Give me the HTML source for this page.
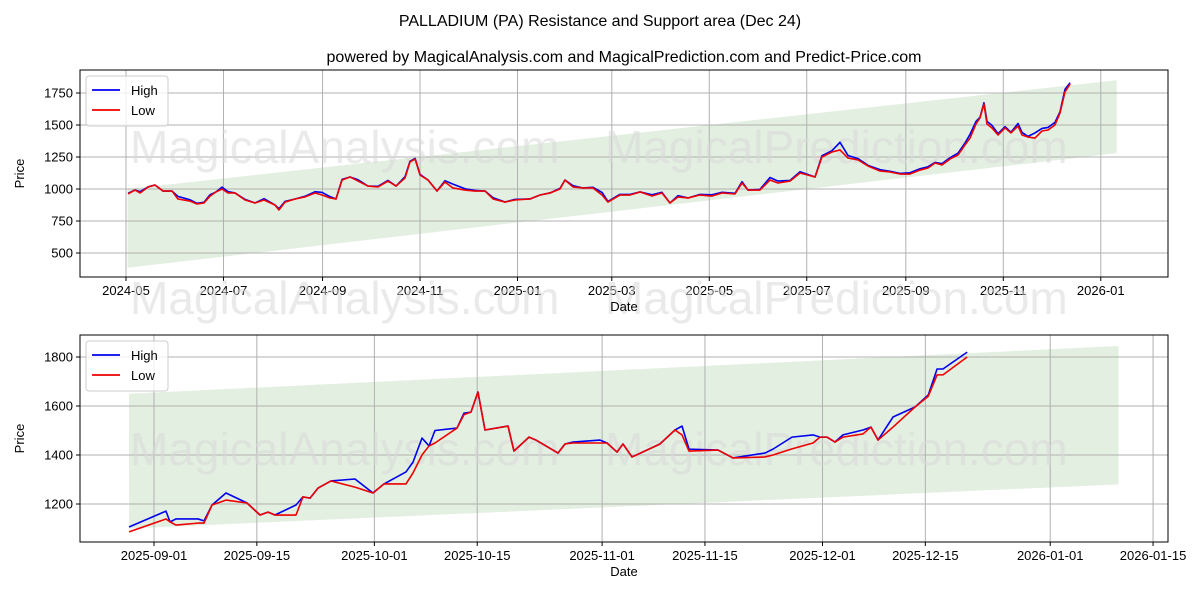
<!DOCTYPE html>
<html><head><meta charset="utf-8">
<style>
body{margin:0;background:#fff;}
svg{font-family:"Liberation Sans","DejaVu Sans",sans-serif;}
</style></head>
<body>
<svg id="c" width="1200" height="600" viewBox="0 0 1200 600" xmlns="http://www.w3.org/2000/svg">
<text x="600" y="26" text-anchor="middle" font-size="16">PALLADIUM (PA) Resistance and Support area (Dec 24)</text>
<text x="624" y="62" text-anchor="middle" font-size="16">powered by MagicalAnalysis.com and MagicalPrediction.com and Predict-Price.com</text>
</svg>
<script>
// Top chart: days since 2024-05-01
const topDays=[1.3,5.6,8.8,13.8,18.1,23.2,28.8,32.5,40,44.4,48.8,52.6,56.3,60.1,63.8,68.2,74.5,80.7,86.4,93.2,95.7,99.5,105.8,112,118.3,122.7,127.7,131.4,135.2,140.2,145.2,151.4,157.7,163.9,169,174.6,177.7,180.9,184,189,194.6,199.6,204.6,212.1,218.4,224.7,229.7,237.2,243.4,252.8,259.1,265.3,271.6,274.7,279.7,286,292.2,297.9,301.6,309.1,315.4,321.7,329.2,335.4,340.4,345.4,351.7,359.2,366.7,373,381.1,385.5,389.2,396.7,403,408,415.5,421.8,431.2,435.5,441.8,446.8,451.8,458.1,464.3,471.8,478.1,484.4,490.6,496.9,501.9,506.3,510.6,515.6,520.7,525,528.2,531.9,534.4,536.9,538.8,541.9,545.7,550.1,553.8,558.2,560.7,564.5,568.8,573.2,577,581.3,584.5,587.6,590.8];
const topLow=[961,992,969,1016,1031,984,984,922,906,883,891,945,977,1000,969,969,914,891,914,875,836,898,922,938,969,953,930,922,1070,1094,1062,1023,1016,1062,1023,1086,1211,1234,1109,1070,984,1055,1008,992,984,984,922,898,914,922,953,969,1000,1070,1016,1008,1008,953,898,953,953,977,945,969,891,938,930,953,945,969,961,1047,992,992,1070,1047,1062,1125,1094,1250,1289,1305,1242,1227,1180,1141,1133,1117,1117,1148,1164,1203,1188,1234,1266,1344,1398,1508,1555,1664,1508,1477,1422,1477,1438,1492,1422,1406,1398,1453,1461,1500,1594,1758,1820];
const topHighAdd=[5,0,10,0,0,0,0,20,10,5,5,10,0,15,10,0,5,0,10,0,10,5,0,5,10,20,10,0,5,0,10,0,5,5,0,10,5,5,5,0,0,10,30,10,5,0,10,0,5,0,0,0,5,0,10,0,5,20,5,5,5,0,10,5,0,10,0,5,10,5,5,10,0,5,20,15,5,10,0,10,10,60,20,10,5,10,5,5,10,10,10,5,10,10,15,15,30,20,5,10,20,20,10,10,5,20,20,5,40,20,20,20,10,20,10];
// Bottom chart: days since 2025-09-01
const botDays=[-3.4,1.63,2.18,2.99,5.99,6.81,7.9,9.8,12.66,14.43,15.52,16.47,19.33,20.28,21.24,22.33,24.1,27.36,29.81,31.31,34.3,35.26,36.48,37.44,38.25,41.25,42.2,43.15,44.1,45.06,48.19,49,51.05,52,55,55.95,57.04,60.71,61.67,63.03,63.84,65.07,68.88,70.92,71.88,72.83,76.78,78.82,83.17,84.26,86.85,89.71,90.66,91.61,92.7,93.79,96.51,97.6,98.56,100.6,103.6,105.4,106.6,107.4,110.7];
const botHigh=[1106,1171,1127,1139,1139,1131,1196,1245,1204,1155,1167,1155,1196,1229,1224,1265,1294,1302,1245,1282,1331,1371,1469,1437,1500,1510,1571,1575,1657,1502,1518,1416,1473,1461,1408,1445,1453,1461,1449,1412,1445,1392,1445,1502,1518,1424,1420,1388,1408,1424,1473,1482,1473,1473,1453,1482,1502,1514,1461,1555,1596,1645,1751,1751,1820];
const botLow=[1086,1139,1127,1114,1122,1122,1196,1216,1204,1155,1167,1155,1155,1229,1224,1265,1294,1269,1245,1282,1282,1327,1400,1437,1449,1510,1565,1575,1657,1502,1518,1416,1473,1461,1408,1445,1449,1449,1449,1412,1445,1392,1445,1502,1482,1416,1420,1388,1392,1400,1425,1449,1473,1473,1453,1473,1486,1514,1461,1514,1596,1640,1727,1727,1800];
const topYTicks=[500,750,1000,1250,1500,1750];
const topXTicks=["2024-05","2024-07","2024-09","2024-11","2025-01","2025-03","2025-05","2025-07","2025-09","2025-11","2026-01"];
const botYTicks=[1200,1400,1600,1800];
const botXTicks=["2025-09-01","2025-09-15","2025-10-01","2025-10-15","2025-11-01","2025-11-15","2025-12-01","2025-12-15","2026-01-01","2026-01-15"];

const svg=document.getElementById('c');
const NS="http://www.w3.org/2000/svg";
function el(tag,attrs,parent){const e=document.createElementNS(NS,tag);for(const k in attrs)e.setAttribute(k,attrs[k]);(parent||svg).appendChild(e);return e;}
function dayOf(s,base){const p=s.split('-').map(Number);const d=Date.UTC(p[0],p[1]-1,p[2]||1);return (d-base)/86400000;}

function panel(o){
  const g=el('g',{});
  
  
  const X=d=>o.x0+(d-o.d0)*o.sx, Y=v=>o.y0-(v-o.v0)*o.sy;
  const band=el('polygon',{points:`${X(o.b[0])},${Y(o.b[1])} ${X(o.b[2])},${Y(o.b[3])} ${X(o.b[2])},${Y(o.b[4])} ${X(o.b[0])},${Y(o.b[5])}`,fill:'#e3efe1'},g);
  
  
  o.yt.forEach(v=>{
    el('line',{x1:o.L,x2:o.R,y1:Y(v),y2:Y(v),stroke:'#b0b0b0','stroke-width':1},g);
    el('line',{x1:o.L-4,x2:o.L,y1:Y(v),y2:Y(v),stroke:'#000'},g);
    const t=el('text',{x:o.L-7,y:Y(v)+4.5,'text-anchor':'end','font-size':13},g);t.textContent=v;
    
    
  });
  o.xt.forEach(s=>{
    const x=X(dayOf(s,o.base));
    el('line',{x1:x,x2:x,y1:o.T,y2:o.B,stroke:'#b0b0b0','stroke-width':1},g);
    el('line',{x1:x,x2:x,y1:o.B,y2:o.B+4,stroke:'#000'},g);
    const t=el('text',{x:x,y:o.B+18,'text-anchor':'middle','font-size':13},g);t.textContent=s;
    
    
  });
  o.wm.forEach(w=>{const t=el('text',{x:w[0],y:w[1],'font-size':46,fill:'#d8d8d8','fill-opacity':0.55},g);t.textContent=w[2];
    
    });
  const line=(vals,col,name)=>{const p=el('polyline',{points:o.days.map((d,i)=>X(d)+','+Y(vals[i])).join(' '),fill:'none',stroke:col,'stroke-width':1.6,'stroke-linejoin':'round'},g);
    
    };
  line(o.hi,'#0000ee','high-line');
  line(o.lo,'#ee0000','low-line');
  el('rect',{x:o.L,y:o.T,width:o.R-o.L,height:o.B-o.T,fill:'none',stroke:'#000','stroke-width':1},g);
  const xl=el('text',{x:(o.L+o.R)/2,y:o.B+34,'text-anchor':'middle','font-size':13},g);xl.textContent='Date';
  
  
  const yl=el('text',{x:0,y:0,'text-anchor':'middle','font-size':13,transform:`translate(${o.L-56},${(o.T+o.B)/2}) rotate(-90)`},g);yl.textContent='Price';
  
  
  const lg=el('g',{},g);
  
  
  el('rect',{x:o.L+6,y:o.T+6,width:82,height:50,fill:'#fff','fill-opacity':0.8,stroke:'#ccc',rx:3},lg);
  [['High','#0000ee',o.T+20],['Low','#ee0000',o.T+40]].forEach(a=>{
    el('line',{x1:o.L+12,x2:o.L+40,y1:a[2],y2:a[2],stroke:a[1],'stroke-width':1.8},lg);
    const t=el('text',{x:o.L+51,y:a[2]+5,'font-size':13},lg);t.textContent=a[0];
    
    
  });
}
const topHigh=topLow.map((v,i)=>v+(topHighAdd[i]||0));
panel({name:'top-panel',L:80,R:1168,T:70,B:277,x0:126,d0:0,sx:1.598,y0:93,v0:1750,sy:0.128,
  base:Date.UTC(2024,4,1),yt:topYTicks,xt:topXTicks,days:topDays,hi:topHigh,lo:topLow,
  b:[1,1000,620,1850,1280,385],
  wm:[[130,163,'MagicalAnalysis.com'],[605,163,'MagicalPrediction.com'],[130,314,'MagicalAnalysis.com'],[605,314,'MagicalPrediction.com']]});
panel({name:'bottom-panel',L:80,R:1168,T:335,B:542,x0:154,d0:0,sx:7.346,y0:357,v0:1800,sy:0.245,
  base:Date.UTC(2025,8,1),yt:botYTicks,xt:botXTicks,days:botDays,hi:botHigh,lo:botLow,
  b:[-3.4,1650,131.3,1845,1280,1100],
  wm:[[130,465,'MagicalAnalysis.com'],[605,465,'MagicalPrediction.com']]});
</script>
</body></html>
